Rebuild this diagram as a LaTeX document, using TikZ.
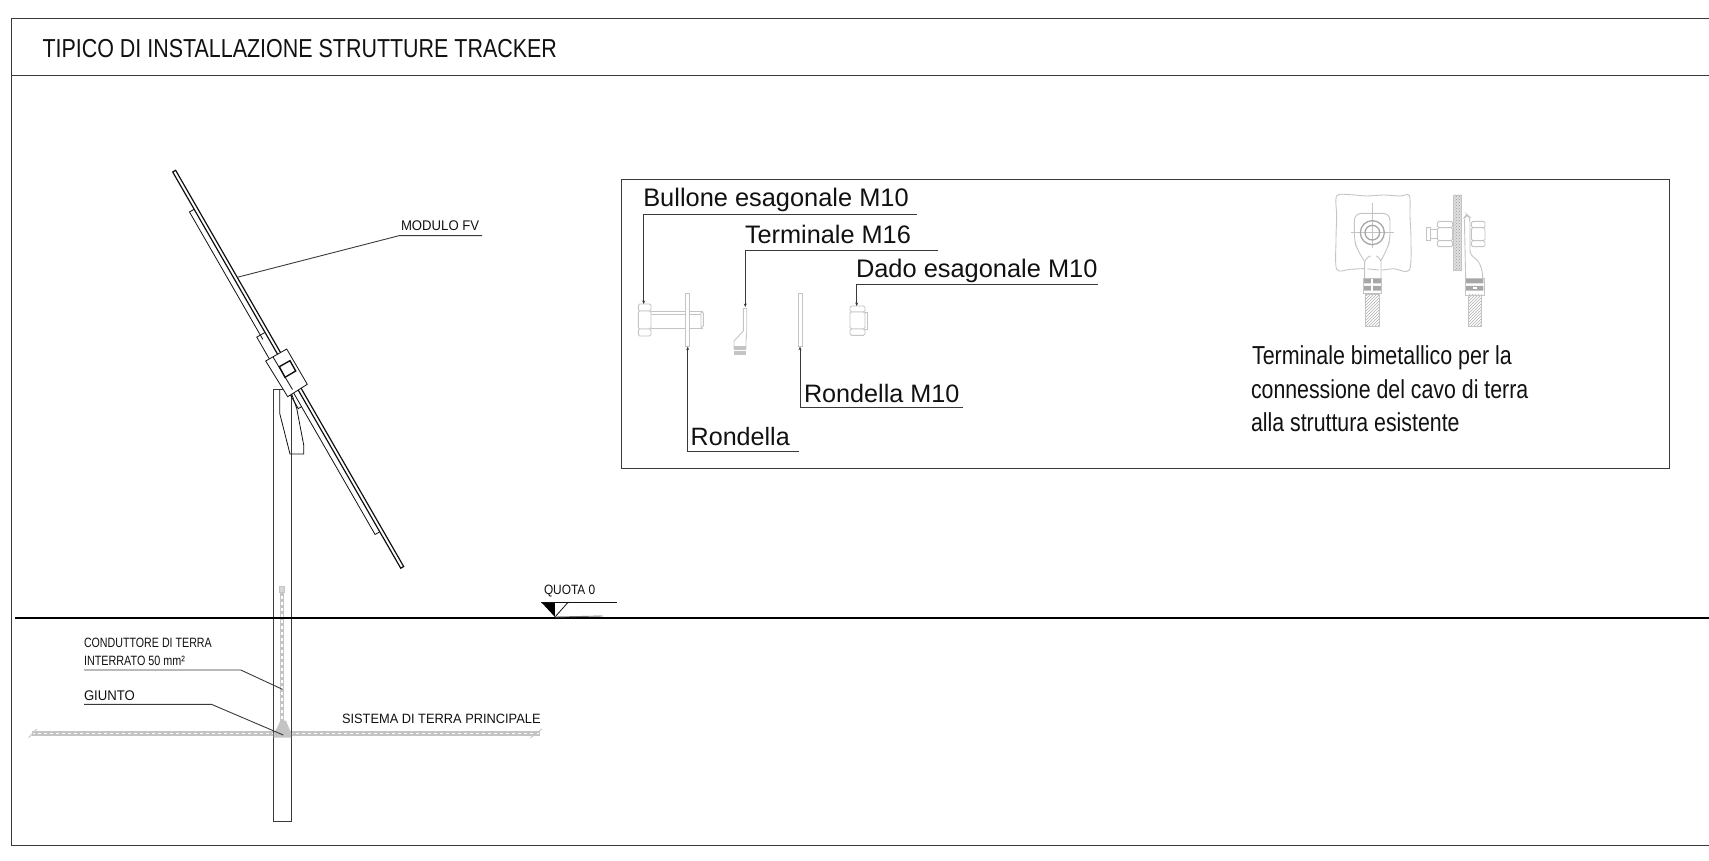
\documentclass[tikz,border=0pt]{standalone}
\usepackage{fontspec}
\setmainfont{Liberation Sans}
\usetikzlibrary{arrows.meta,patterns}
\definecolor{ink}{HTML}{111111}
\definecolor{dk}{HTML}{3A3A3A}
\definecolor{lg}{HTML}{C4C4C4}
\newcommand\lbl[6]{\node[lab] (#1) at (#2) {\fontsize{#3}{#3}\selectfont\scalebox{#4}[1]{#5}}; }
\tikzset{
 lab/.style={anchor=base west,inner sep=0pt,outer sep=0pt,text=ink},
 frameline/.style={draw=dk,line width=.9pt},
 thin line/.style={draw=ink,line width=.8pt},
 leader/.style={draw=dk,line width=.9pt},
 leadtip/.style={draw=dk,line width=.9pt,-{Stealth[length=3.5pt,width=3pt]}},
 part/.style={draw=lg,line width=.9pt},
 hexpart/.style={draw=lg,line width=.9pt,rounded corners=1.5pt,fill=white},
 rope/.style={draw=lg,line width=4.8pt,postaction={draw=white,line width=1.2pt,dash pattern=on 3pt off 3pt}},
 hatchfill/.style={pattern=north east lines,pattern color=lg!90!black},
 dotfill/.style={preaction={fill=lg!55},pattern=crosshatch dots,pattern color=lg!80!black},
}
\begin{document}
\begin{tikzpicture}[x=1pt,y=-1pt]
\useasboundingbox (0,0) rectangle (1709,861);
% frame
\draw[frameline] (1709,18.5) -- (11,18.5) -- (11,845) -- (1709,845);
\draw[frameline] (11,75) -- (1709,75);
\lbl{title}{42.5,57.5}{26}{.825}{TIPICO DI INSTALLAZIONE STRUTTURE TRACKER}{}
% earth
\draw[rope] (32,733.3) -- (540,733.3);
\draw[part] (28.6,737.7) -- (36.7,729);
\draw[part] (530.6,737.7) -- (542,729);
\draw[rope] (282,590) -- (282,722);
\draw[part,fill=lg!70] (279.5,586) rectangle (284.5,592);
% pole
\draw[frameline] (273,389.3) -- (273,821.7) -- (291.2,821.7) -- (291.2,389.3) -- cycle;
\fill[lg] (280.3,720.7) -- (286,720.7) -- (291,733) -- (291,737.7) -- (273.5,737.7) -- (273.5,733) -- (277,728) -- cycle;
% ground
\draw[draw=black,line width=2pt] (15,617.7) -- (1709,617.7);
% bracket
\draw[thin line] (279.7,389.3) -- (279.7,413.3) -- (290,454) -- (303.7,454) -- (303.7,445) -- (296.7,408.3) -- (291,392);
% panel in its own axes
\begin{scope}[shift={(172.7,172)},x={(.499pt,-.867pt)},y={(.867pt,.499pt)}]
\draw[ink,line width=1.2pt] (0,0) -- (457,0) -- (457,3.4) -- (0,3.4) -- cycle;
\draw[ink,line width=.8pt] (43,-.2) -- (43,-5.4) -- (190,-5.4);
\draw[ink,line width=.8pt] (185,-.5) -- (185,-9.5) -- (225,-9.5);
\draw[ink,line width=.8pt] (415,-.5) -- (415,-5.4) -- (250,-5.4) -- (250,-.5);
\draw[ink,line width=.8pt] (250,-9.2) -- (267.6,-9.2) -- (267.6,-5.4);
\end{scope}
% clamp
\draw[thin line,fill=white] (265.7,361) -- (286.7,349) -- (307.3,384.3) -- (287.7,396.7) -- cycle;
\draw[thin line] (273,357) -- (292.5,389.5);
\draw[ink,line width=1.4pt] (279.3,366.7) -- (290,360.7) -- (295.7,371) -- (285,377.3) -- cycle;
% module leader
\lbl{modulo}{401,231}{14}{.94}{MODULO FV}{}
\coordinate (m0) at (237.3,277.3);\coordinate (m1) at (399,235.7);\coordinate (m2) at (482,235.7);
\draw[leader] (m0) -- (m1) -- (m2);
% ground leaders & labels
\lbl{quota}{544,594.7}{13.5}{.88}{QUOTA 0}{}
\coordinate (q0) at (541,602);\coordinate (q1) at (568.3,602);\coordinate (q2) at (555,617);\coordinate (q3) at (617.3,602);\coordinate (q4) at (602.7,616);
\fill[black] (q0) -- (554.8,602) -- (q2) -- cycle;
\draw[thin line] (q0) -- (q3);
\draw[thin line] (q2) -- (q1);
\draw[draw=lg!60!black,line width=.9pt] (q2) -- (q4);
\lbl{cond}{84,647.3}{13.5}{.79}{CONDUTTORE DI TERRA}{}
\lbl{inter}{84,665}{13.5}{.8}{INTERRATO 50 mm²}{}
\coordinate (c0) at (84,670);\coordinate (c1) at (240.8,670);\coordinate (c2) at (282.4,689.3);
\draw[leader] (c0) -- (c1) -- (c2);
\lbl{giunto}{84,700}{14}{.94}{GIUNTO}{}
\coordinate (g0) at (84,704.3);\coordinate (g1) at (211.4,704.3);\coordinate (g2) at (283.3,735);
\draw[leader] (g0) -- (g1) -- (g2);
\lbl{sis}{342,723.3}{13.5}{.95}{SISTEMA DI TERRA PRINCIPALE}{}
% detail panel
\draw[frameline] (621.7,179) rectangle (1669.6,468.3);
\lbl{bul}{643.3,207}{25.4}{1}{Bullone esagonale M10}{}
\lbl{ter}{745,243.8}{25.3}{1}{Terminale M16}{}
\lbl{dad}{856,278}{25.4}{1}{Dado esagonale M10}{}
\lbl{ron}{690.7,445.3}{25.1}{1}{Rondella}{}
\lbl{ronm}{804,402.3}{25.2}{1}{Rondella M10}{}
% parts
\draw[hexpart] (638.3,304) rectangle (651,311);
\draw[hexpart] (638.3,311) rectangle (651,329);
\draw[hexpart] (638.3,329) rectangle (651,336);
\draw[part] (651,311) -- (703.3,311) (651,328.3) -- (703.3,328.3) (651,314) -- (701,314);
\draw[part] (701,311) -- (701,328.3) (701,312) -- (703.3,313) -- (703.3,326) -- (701,328);
\draw[part,fill=white] (685.7,293.3) rectangle (689.3,346);
\draw[part,fill=white] (798.3,293.3) rectangle (802.3,346);
\draw[part] (743.3,308) -- (743.3,331) -- (734,341) -- (734,349);
\draw[part] (746.7,308) -- (743.3,308);
\draw[part] (746.7,308) -- (746.7,333) -- (746,340) -- (746,349);
\fill[lg] (734,346) rectangle (746,355);
\draw[white,line width=.8pt] (734,350) -- (746,350);
\draw[hexpart] (850,306) rectangle (865,312);
\draw[hexpart] (850,312) rectangle (865,329);
\draw[hexpart] (850,329) rectangle (865,335.3);
\draw[part] (865,312) -- (867,312) -- (867,329) -- (865,329);
% leaders
\coordinate (b0) at (916.7,214.3);\coordinate (b1) at (643.7,214.3);\coordinate (b2) at (643.7,304);
\draw[leadtip] (b0) -- (b1) -- (b2);
\coordinate (t0) at (938.3,250);\coordinate (t1) at (745.3,250);\coordinate (t2) at (745.3,307);
\draw[leadtip] (t0) -- (t1) -- (t2);
\coordinate (d0) at (1097.7,284.7);\coordinate (d1) at (856.7,284.7);\coordinate (d2) at (856.7,306);
\draw[leadtip] (d0) -- (d1) -- (d2);
\coordinate (r0) at (799,451.3);\coordinate (r1) at (687.7,451.3);\coordinate (r2) at (687.7,346.7);
\draw[leadtip] (r0) -- (r1) -- (r2);
\coordinate (s0) at (963.3,407.7);\coordinate (s1) at (800,407.7);\coordinate (s2) at (800,346.7);
\draw[leadtip] (s0) -- (s1) -- (s2);
% terminal detail, in crop units
\begin{scope}[shift={(1300,180)},x=.33333pt,y=-.33333pt]
\draw[part] plot[smooth cycle,tension=.5] coordinates {(110,48)(150,44)(200,48)(250,45)(300,48)(328,47)(330,110)(333,180)(328,270)(280,266)(245,270)(190,266)(150,268)(110,268)(108,180)(110,110)};
\draw[part,fill=white,rounded corners=7pt] (192,242) -- (170,205) -- (163,180) -- (163,100) -- (270,100) -- (270,180) -- (262,205) -- (243,242);
\draw[part] (217,68) -- (217,205) (152,158) -- (282,158);
\draw[draw=lg!85!black,line width=1.3pt] (217,158) circle (36);
\draw[draw=lg!85!black,line width=1.3pt] (217,158) circle (22);
\draw[part,fill=white] (194,296) -- (194,245) .. controls (198,235) and (208,228) .. (212,228) (243,296) -- (243,245) .. controls (240,235) and (232,228) .. (228,228);
\fill[lg!85!black] (190,295) rectangle (244,310) (190,318) rectangle (244,332);
\fill[white] (213,295) rectangle (220,332);
\draw[part] (190,295) rectangle (245,340);
\draw[part,hatchfill] (196,342) rectangle (238,438);
\draw[part,dotfill] (461,45) rectangle (484,270);
\draw[part] (380,142) rectangle (392,180) (392,148) -- (412,148) (392,176) -- (412,176);
\draw[hexpart] (412,124) rectangle (458,143);
\draw[hexpart] (412,143) rectangle (458,182);
\draw[hexpart] (412,182) rectangle (458,200);
\draw[hexpart] (514,124) rectangle (555,143);
\draw[hexpart] (514,143) rectangle (555,182);
\draw[hexpart] (514,182) rectangle (555,200);
\draw[part,fill=white,rounded corners=4pt] (497,296) -- (493,112) -- (500,103) -- (510,112) -- (510,225) .. controls (535,240) and (548,260) .. (548,296);
\fill[lg!85!black] (497,297) rectangle (550,310) (497,318) rectangle (550,332);
\fill[white] (518,322) rectangle (532,326);
\draw[part] (497,296) rectangle (552,345);
\draw[part,hatchfill] (505,345) rectangle (545,440);
\end{scope}
\lbl{tb1}{1252,364}{26}{.825}{Terminale bimetallico per la}{}
\lbl{tb2}{1251,398.5}{26}{.82}{connessione del cavo di terra}{}
\lbl{tb3}{1251,431.5}{26}{.82}{alla struttura esistente}{}
\end{tikzpicture}
\end{document}
